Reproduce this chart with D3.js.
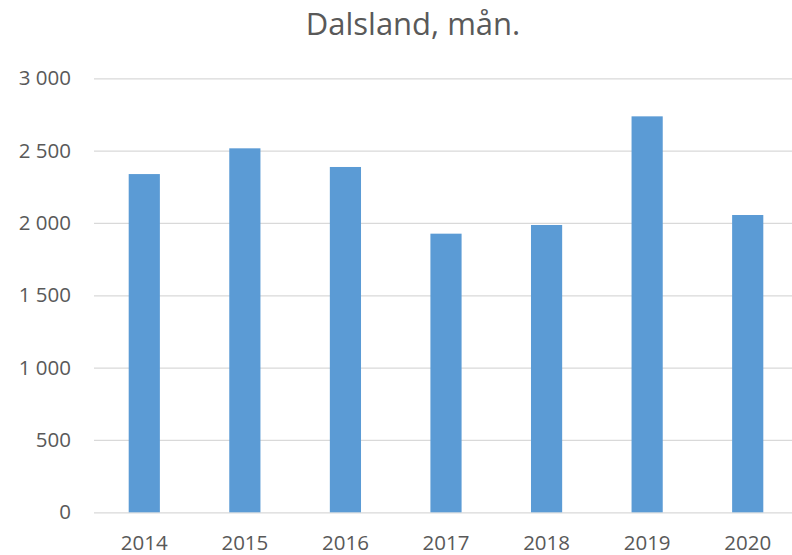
<!DOCTYPE html>
<html>
<head>
<meta charset="utf-8">
<script src="https://cdn.jsdelivr.net/npm/d3@7"></script>
<style>
  html, body { margin: 0; padding: 0; background: #fff; }
  svg { display: block; font-family: "Open Sans", sans-serif; }
</style>
</head>
<body>
<svg id="chart" width="792" height="555"></svg>
<script>
const title = "Dalsland, mån.";
const years = ["2014", "2015", "2016", "2017", "2018", "2019", "2020"];
const values = [2338, 2516, 2387, 1926, 1986, 2737, 2055];
const yTicks = [0, 500, 1000, 1500, 2000, 2500, 3000];

(function () {
const svg = d3.select("#chart");
const mLeft = 94, mRight = 798, mTop = 78.3, mBottom = 512.3;

const x = d3.scaleBand().domain(years).range([mLeft, mRight])
  .paddingInner(0.69).paddingOuter(0.345);
const y = d3.scaleLinear().domain([0, 3000]).range([mBottom, mTop]);

const fmt = v => d3.format(",")(v).replace(/,/g, " ");

// gridlines + y labels
const yAxis = d3.axisLeft(y).tickValues(yTicks).tickSize(-(mRight - mLeft)).tickFormat(fmt).tickPadding(23);
const gy = svg.append("g").attr("transform", `translate(${mLeft},0)`).call(yAxis);
gy.select(".domain").remove();
gy.selectAll(".tick line").attr("stroke", "#d9d9d9").attr("stroke-width", 1.3);
gy.selectAll(".tick text").attr("fill", "#595959").style("font-size", "20.5px")
  .style("font-family", "'Open Sans', sans-serif");

// bars
svg.append("g").selectAll("rect").data(values).join("rect")
  .attr("x", (d, i) => x(years[i]))
  .attr("width", x.bandwidth())
  .attr("y", d => y(d))
  .attr("height", d => y(0) - y(d))
  .attr("fill", "#5b9bd5");

// x axis
const xAxis = d3.axisBottom(x).tickSize(0).tickPadding(23);
const gx = svg.append("g").attr("transform", `translate(0,${mBottom})`).call(xAxis);
gx.select(".domain").remove();
gx.selectAll(".tick text").attr("fill", "#595959").style("font-size", "20.5px")
  .style("font-family", "'Open Sans', sans-serif");

// title
svg.append("text").attr("x", 413).attr("y", 35).attr("text-anchor", "middle")
  .attr("fill", "#595959").style("font-size", "31px")
  .style("font-family", "'Open Sans', sans-serif")
  .text(title);
})();
</script>
</body>
</html>
